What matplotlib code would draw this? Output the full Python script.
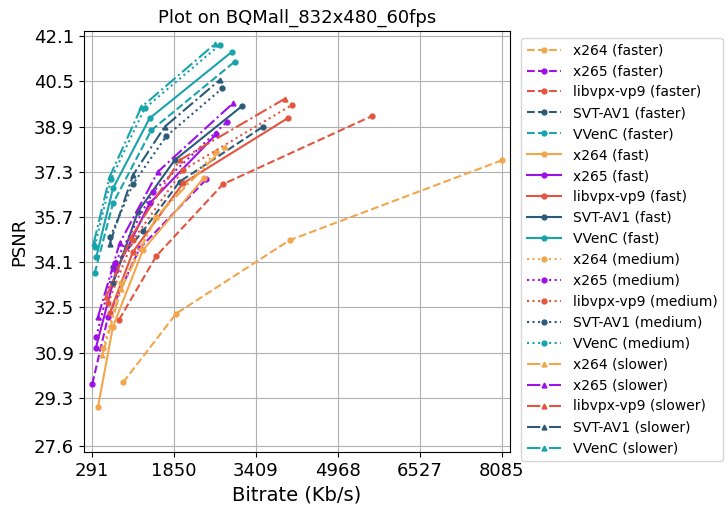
import matplotlib
matplotlib.use("Agg")
import matplotlib.pyplot as plt
import numpy as np

codecs = ["x264", "x265", "libvpx-vp9", "SVT-AV1", "VVenC"]
presets = ["faster", "fast", "medium", "slower"]
colors = {"x264": "#f2a64c", "x265": "#9e10e6", "libvpx-vp9": "#e4543e",
          "SVT-AV1": "#2b5a7a", "VVenC": "#19a3ac"}
styles = {"faster": "--", "fast": "-", "medium": ":", "slower": "-."}
markers = {"faster": "o", "fast": "o", "medium": "o", "slower": "^"}

bitrate = {
    ("x264", "faster"): [882, 1889, 4047, 8076],
    ("x265", "faster"): [298, 596, 1197, 2464],
    ("libvpx-vp9", "faster"): [804, 1514, 2781, 5611],
    ("SVT-AV1", "faster"): [690, 1260, 1958, 3540],
    ("VVenC", "faster"): [342, 690, 1420, 3002],
    ("x264", "fast"): [406, 690, 1260, 2413],
    ("x265", "fast"): [362, 754, 1386, 2654],
    ("libvpx-vp9", "fast"): [627, 1070, 2021, 4008],
    ("SVT-AV1", "fast"): [690, 1165, 1862, 3141],
    ("VVenC", "fast"): [374, 690, 1386, 2950],
    ("x264", "medium"): [501, 849, 1514, 2654],
    ("x265", "medium"): [374, 722, 1450, 2859],
    ("libvpx-vp9", "medium"): [596, 1070, 2021, 4090],
    ("SVT-AV1", "medium"): [640, 1070, 1704, 2768],
    ("VVenC", "medium"): [342, 659, 1292, 2717],
    ("x264", "slower"): [488, 849, 1514, 2812],
    ("x265", "slower"): [406, 817, 1545, 2970],
    ("libvpx-vp9", "slower"): [564, 1039, 1958, 3964],
    ("SVT-AV1", "slower"): [627, 1070, 1672, 2717],
    ("VVenC", "slower"): [323, 627, 1228, 2622],
}
psnr = {
    ("x264", "faster"): [29.85, 32.28, 34.88, 37.70],
    ("x265", "faster"): [29.80, 32.17, 34.59, 37.03],
    ("libvpx-vp9", "faster"): [32.06, 34.32, 36.86, 39.27],
    ("SVT-AV1", "faster"): [33.94, 35.20, 36.95, 38.89],
    ("VVenC", "faster"): [33.71, 36.18, 38.77, 41.19],
    ("x264", "fast"): [28.99, 31.82, 34.53, 37.07],
    ("x265", "fast"): [31.05, 33.82, 36.18, 38.63],
    ("libvpx-vp9", "fast"): [32.29, 34.47, 36.89, 39.19],
    ("SVT-AV1", "fast"): [33.35, 35.89, 37.71, 39.62],
    ("VVenC", "fast"): [34.29, 36.71, 39.19, 41.54],
    ("x264", "medium"): [31.05, 33.35, 35.71, 38.01],
    ("x265", "medium"): [31.47, 34.06, 36.59, 39.07],
    ("libvpx-vp9", "medium"): [32.65, 34.88, 37.36, 39.66],
    ("SVT-AV1", "medium"): [35.00, 36.86, 38.56, 40.25],
    ("VVenC", "medium"): [34.65, 37.06, 39.54, 41.78],
    ("x264", "slower"): [30.82, 33.17, 35.71, 38.18],
    ("x265", "slower"): [32.17, 34.77, 37.30, 39.72],
    ("libvpx-vp9", "slower"): [32.88, 35.00, 37.71, 39.89],
    ("SVT-AV1", "slower"): [34.74, 37.18, 38.89, 40.54],
    ("VVenC", "slower"): [34.77, 37.12, 39.58, 41.81],
}

xticks = [291, 1850, 3409, 4968, 6527, 8085]
yticks = [27.6, 29.3, 30.9, 32.5, 34.1, 35.7, 37.3, 38.9, 40.5, 42.1]

fig = plt.figure(figsize=(7.27, 5.07), dpi=100)
ax = fig.add_axes([0.1155, 0.1085, 0.586, 0.8305])
for p in presets:
    for c in codecs:
        ax.plot(bitrate[(c, p)], psnr[(c, p)], linestyle=styles[p], marker=markers[p],
                markersize=3.5, color=colors[c], linewidth=1.5, label=f"{c} ({p})")
ax.set_xticks(xticks)
ax.set_yticks(yticks)
ax.set_yticklabels([f"{v:.1f}" for v in yticks])
ax.set_xlim(139, 8237)
ax.set_ylim(27.39, 42.28)
ax.tick_params(labelsize=13)
ax.grid(True, color="#b0b0b0", linewidth=0.8)
ax.set_xlabel("Bitrate (Kb/s)", fontsize=14)
ax.set_ylabel("PSNR", fontsize=13)
ax.set_title("Plot on BQMall_832x480_60fps", fontsize=13)
ax.legend(loc="upper left", bbox_to_anchor=(1.01, 1.0), fontsize=10, handlelength=2.5)
fig.savefig("out.png", dpi=100)
